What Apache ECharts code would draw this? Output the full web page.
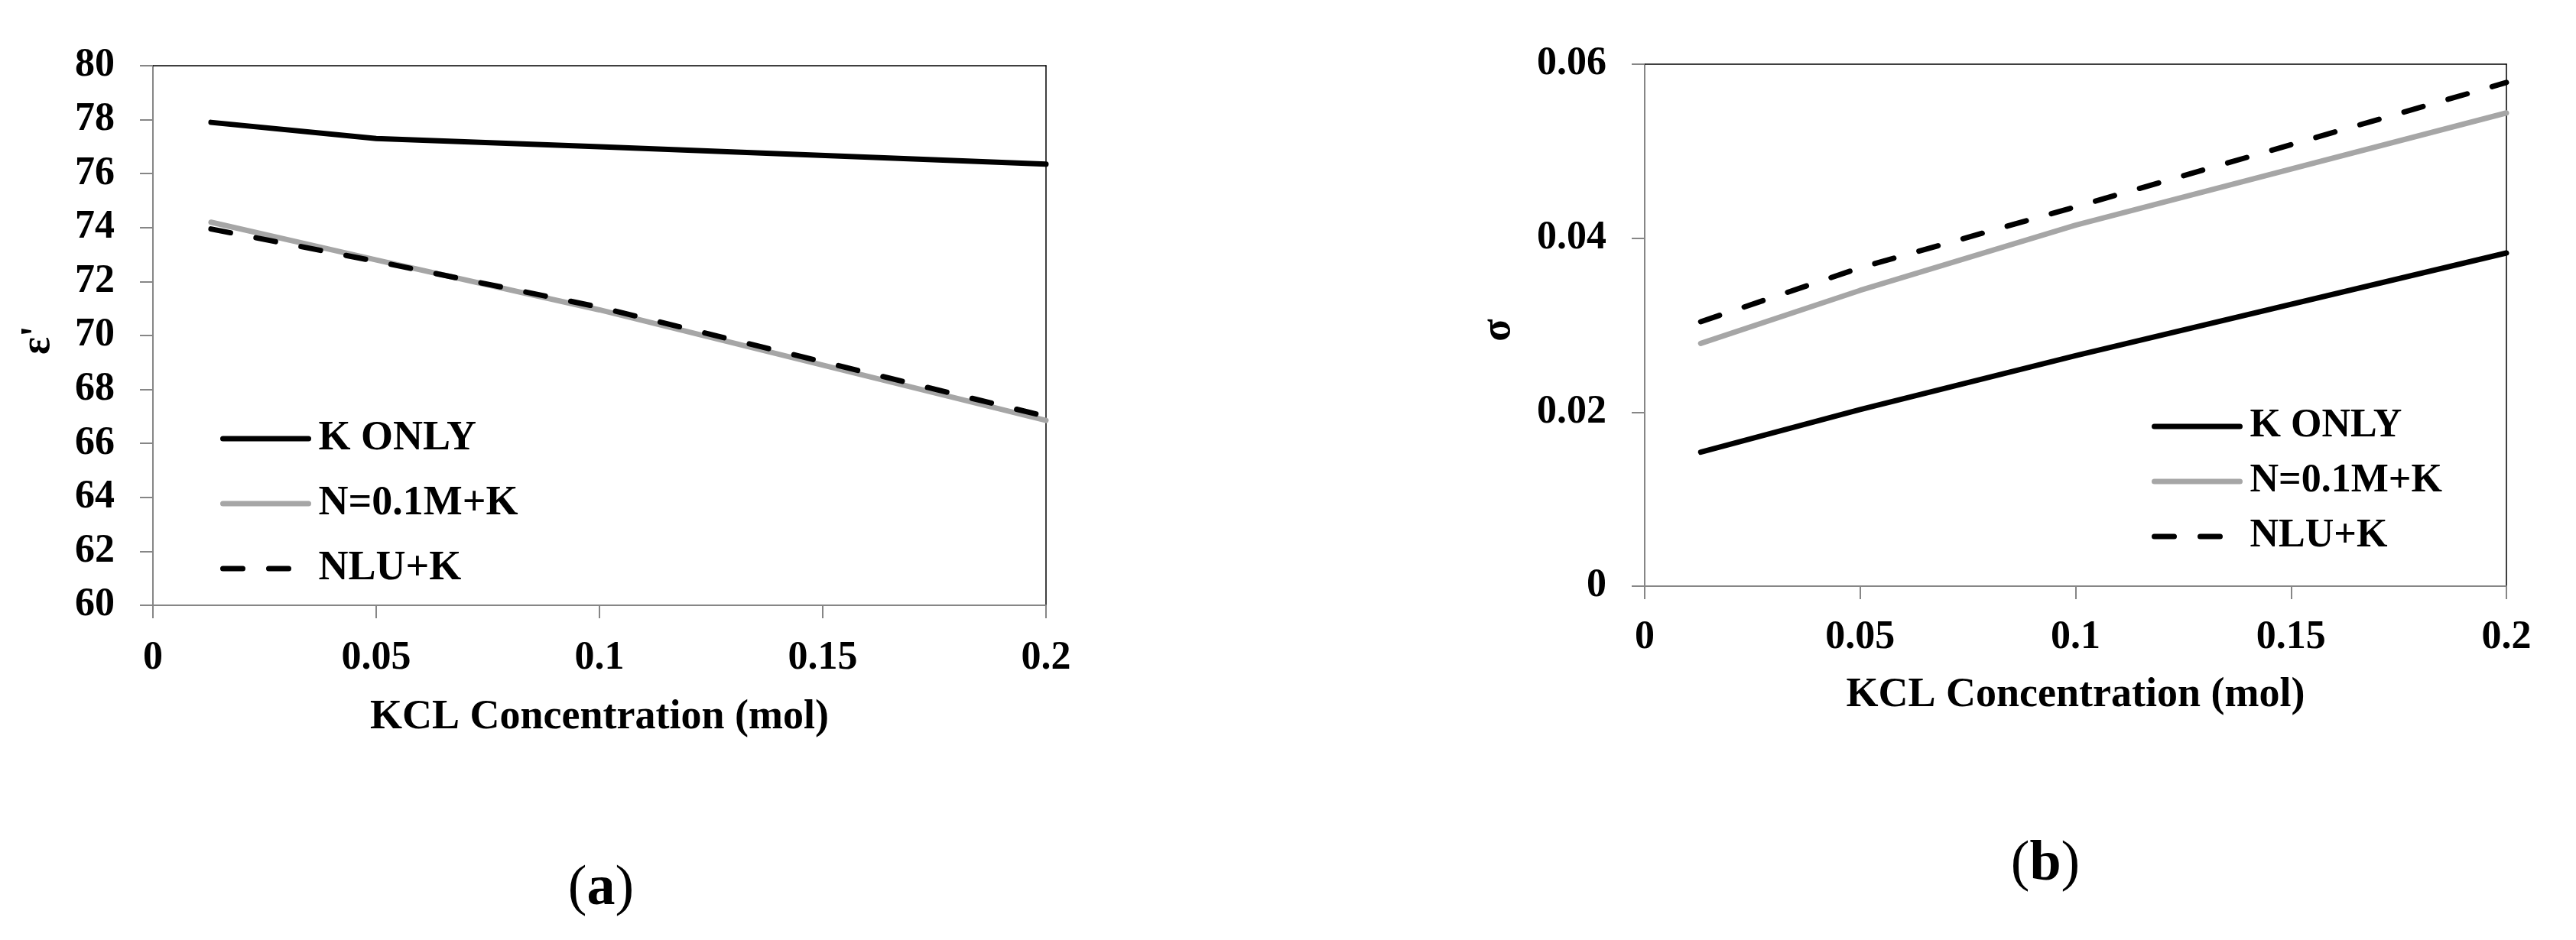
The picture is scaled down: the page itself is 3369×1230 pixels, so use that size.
<!DOCTYPE html>
<html><head><meta charset="utf-8">
<script src="https://cdn.jsdelivr.net/npm/echarts@6/dist/echarts.min.js"></script>
<style>html,body{margin:0;padding:0;background:#fff}#c{width:3369px;height:1230px}</style>
</head><body><div id="c"></div>
<script>
// ---- data ----
const kclConc = [0.013, 0.05, 0.1, 0.2];
const seriesNames = ['K ONLY', 'N=0.1M+K', 'NLU+K'];
// (a) permittivity
const epsKOnly = [77.9, 77.3, 77.0, 76.35];
const epsN01M  = [74.2, 72.8, 70.95, 66.85];
const epsNLU   = [73.95, 72.75, 71.05, 67.0];
// (b) conductivity
const sigKOnly = [0.0154, 0.0203, 0.0265, 0.0383];
const sigN01M  = [0.0279, 0.0340, 0.0415, 0.0544];
const sigNLU   = [0.0304, 0.0366, 0.0436, 0.0579];
// axis ranges [min, max, interval]
const xRange   = [0, 0.2, 0.05];
const epsRange = [60, 80, 2];
const sigRange = [0, 0.06, 0.02];
const axisTitleX = 'KCL Concentration (mol)';
const axisTitleEps = "ε'";
const axisTitleSig = 'σ';

const FONT = 'Liberation Serif';
const GRAY_AX = '#868686';
const LW = 7;
const textBold = (size) => ({fontFamily: FONT, fontWeight: 'bold', fontSize: size, color: '#000'});

function mainX(gridIndex, gap, margin) {
  return {
    type: 'value', gridIndex, position: 'bottom',
    min: xRange[0], max: xRange[1], interval: xRange[2],
    name: axisTitleX, nameLocation: 'middle', nameGap: gap,
    nameTextStyle: textBold(54),
    axisLine: {show: true, onZero: false, lineStyle: {color: GRAY_AX, width: 2}},
    axisTick: {show: true, inside: false, length: 17, lineStyle: {color: GRAY_AX, width: 2}},
    axisLabel: Object.assign({show: true, margin: margin}, textBold(52)),
    splitLine: {show: false}
  };
}
function borderX(gridIndex) {
  return {
    type: 'value', gridIndex, position: 'top',
    min: xRange[0], max: xRange[1], interval: xRange[2],
    axisLine: {show: true, onZero: false, lineStyle: {color: '#000', width: 1.5}},
    axisTick: {show: false}, axisLabel: {show: false}, splitLine: {show: false}
  };
}
function mainY(gridIndex, r) {
  return {
    type: 'value', gridIndex, position: 'left',
    min: r[0], max: r[1], interval: r[2],
    axisLine: {show: true, onZero: false, lineStyle: {color: GRAY_AX, width: 2}},
    axisTick: {show: true, inside: false, length: 17, lineStyle: {color: GRAY_AX, width: 2}},
    axisLabel: Object.assign({show: true, margin: 50}, textBold(52)),
    splitLine: {show: false}
  };
}
function borderY(gridIndex, r) {
  return {
    type: 'value', gridIndex, position: 'right',
    min: r[0], max: r[1], interval: r[2],
    axisLine: {show: true, onZero: false, lineStyle: {color: '#000', width: 1.5}},
    axisTick: {show: false}, axisLabel: {show: false}, splitLine: {show: false}
  };
}
const styles = [
  {color: '#000000', type: 'solid'},
  {color: '#A6A6A6', type: 'solid'},
  {color: '#000000', type: [26, 34]}
];
function mkSeries(name, idx, xi, yi, vals) {
  const s = styles[idx];
  return {
    type: 'line', name, xAxisIndex: xi, yAxisIndex: yi,
    data: kclConc.map((x, i) => [x, vals[i]]),
    symbol: 'none', showSymbol: false, clip: false, silent: true,
    lineStyle: {color: s.color, width: LW, type: s.type, cap: 'round', join: 'round'},
    itemStyle: {color: s.color}
  };
}
function mkLegend(left, top, gap, size) {
  return {
    orient: 'vertical', left, top, itemWidth: 112, itemHeight: 14, itemGap: gap,
    data: seriesNames, selectedMode: false,
    itemStyle: {opacity: 0},
    lineStyle: {width: LW, cap: 'round'},
    textStyle: Object.assign({padding: [0, 0, 0, 8]}, textBold(size))
  };
}

const chart = echarts.init(document.getElementById('c'), null, {renderer: 'canvas'});
chart.setOption({
  animation: false,
  backgroundColor: '#fff',
  grid: [
    {left: 200, top: 86, width: 1168, height: 706, containLabel: false},
    {left: 2151, top: 84, width: 1127, height: 683, containLabel: false}
  ],
  xAxis: [mainX(0, 120, 44), borderX(0), mainX(1, 116, 42), borderX(1)],
  yAxis: [mainY(0, epsRange), borderY(0, epsRange), mainY(1, sigRange), borderY(1, sigRange)],
  legend: [mkLegend(283, 542, 31, 54), mkLegend(2809, 527, 20, 52)],
  series: [
    mkSeries(seriesNames[0], 0, 0, 0, epsKOnly),
    mkSeries(seriesNames[1], 1, 0, 0, epsN01M),
    mkSeries(seriesNames[2], 2, 0, 0, epsNLU),
    mkSeries(seriesNames[0], 0, 2, 2, sigKOnly),
    mkSeries(seriesNames[1], 1, 2, 2, sigN01M),
    mkSeries(seriesNames[2], 2, 2, 2, sigNLU)
  ],
  graphic: [
    {type: 'text', x: 50, y: 445, rotation: Math.PI / 2,
     style: {text: axisTitleEps, font: 'bold 54px "Liberation Serif"', fill: '#000', align: 'center', verticalAlign: 'middle'}},
    {type: 'text', x: 1960, y: 432, rotation: Math.PI / 2,
     style: {text: axisTitleSig, font: 'bold 54px "Liberation Serif"', fill: '#000', align: 'center', verticalAlign: 'middle'}},
    {type: 'text', x: 786, y: 1164,
     style: {text: '{p|(}{b|a}{p|)}', align: 'center', verticalAlign: 'middle',
       rich: {p: {fontFamily: FONT, fontSize: 74, fontWeight: 'normal', fill: '#000'},
              b: {fontFamily: FONT, fontSize: 74, fontWeight: 'bold', fill: '#000'}}}},
    {type: 'text', x: 2675, y: 1132,
     style: {text: '{p|(}{b|b}{p|)}', align: 'center', verticalAlign: 'middle',
       rich: {p: {fontFamily: FONT, fontSize: 74, fontWeight: 'normal', fill: '#000'},
              b: {fontFamily: FONT, fontSize: 74, fontWeight: 'bold', fill: '#000'}}}}
  ]
});
</script>
</body></html>
